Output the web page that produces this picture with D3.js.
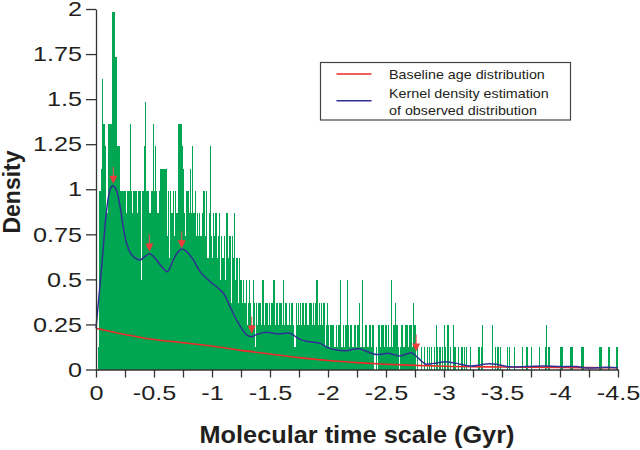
<!DOCTYPE html>
<html><head><meta charset="utf-8">
<script src="https://cdn.jsdelivr.net/npm/d3@7"></script>
<style>body{margin:0;background:#fff}</style>
</head><body><svg id="c" width="640" height="450"></svg>
<script>
// ---- data ----
const binWidth = 0.01;          // Gyr per histogram bin
const densityPerCount = 0.1238; // density of one count
const histCounts = [
 0,0,1,8,9,13,11,11,10,7,
 11,11,11,11,16,16,14,14,10,10,
 10,8,8,8,8,8,7,8,8,11,
 8,7,8,8,8,7,8,8,8,4,
 8,10,12,8,8,8,7,8,8,11,
 8,10,8,7,8,9,9,9,9,9,
 9,6,8,5,8,7,8,6,8,7,
 7,11,11,11,10,9,7,6,8,8,
 7,9,7,10,7,8,6,7,6,7,
 6,7,8,8,6,8,5,7,10,6,
 5,7,6,7,5,6,7,4,6,5,
 6,4,7,7,5,6,3,6,5,7,
 4,5,3,5,4,4,3,4,3,4,
 2,3,4,3,2,4,3,1,3,2,
 3,3,2,4,4,2,3,3,2,3,
 2,3,3,4,2,3,3,2,3,3,
 2,4,2,3,3,2,3,2,3,3,
 2,1,3,2,3,2,3,2,3,2,
 3,3,2,2,3,3,2,3,2,3,
 4,2,3,2,3,2,3,1,2,3,
 2,1,2,2,2,1,1,2,1,2,
 4,1,1,2,1,2,4,2,1,2,
 2,1,2,2,1,2,2,3,1,4,
 1,1,2,2,1,2,2,1,2,2,
 0,1,0,2,2,1,2,2,1,2,
 2,1,2,1,4,1,2,2,3,2,
 1,0,1,2,2,1,2,2,2,1,
 2,2,1,3,2,2,0,1,0,0,
 1,0,0,1,0,1,0,1,0,1,
 0,1,0,2,1,0,1,0,1,0,
 2,1,0,2,0,1,0,0,2,1,
 0,0,1,0,0,1,0,1,0,1,
 0,0,1,0,0,0,0,0,0,1,
 1,0,1,2,0,0,0,0,0,0,
 0,2,0,0,1,0,1,0,1,0,
 0,0,0,0,1,0,1,0,0,0,
 1,0,0,0,0,0,0,1,0,0,
 0,1,0,0,0,1,0,0,0,0,
 0,0,1,0,0,0,0,1,2,0,
 1,0,0,0,0,0,0,0,0,0,
 1,1,1,0,0,0,0,0,0,1,
 1,0,0,0,0,0,0,0,1,1,
 1,0,0,0,0,0,0,0,0,0,
 0,0,0,0,1,1,0,0,0,0,
 0,1,1,0,0,0,0,0,1,1
];
const kdeTime = [0,-0.049,-0.092,-0.121,-0.144,-0.172,-0.207,-0.235,-0.264,-0.307,-0.379,-0.422,-0.46,-0.509,-0.566,-0.615,-0.667,-0.71,-0.739,-0.782,-0.839,-0.897,-0.983,-1.098,-1.155,-1.227,-1.299,-1.342,-1.379,-1.466,-1.566,-1.672,-1.75,-1.836,-1.931,-2.003,-2.075,-2.16,-2.26,-2.42,-2.52,-2.62,-2.72,-2.78,-2.84,-2.91,-3.01,-3.11,-3.22,-3.37,-3.45,-3.54,-3.71,-3.86,-4.0,-4.14,-4.23,-4.4,-4.5];
const kdeDensity = [0.229,0.571,0.886,0.997,1.019,1.001,0.905,0.79,0.70,0.636,0.608,0.627,0.642,0.618,0.571,0.543,0.608,0.654,0.668,0.654,0.608,0.543,0.488,0.423,0.349,0.257,0.192,0.182,0.192,0.207,0.197,0.201,0.170,0.154,0.145,0.12,0.108,0.104,0.115,0.083,0.09,0.075,0.093,0.062,0.031,0.034,0.043,0.034,0.019,0.031,0.029,0.016,0.016,0.019,0.016,0.016,0.008,0.012,0.01];
const baseTime = [0,-0.25,-0.5,-0.75,-1,-1.25,-1.5,-1.75,-2,-2.25,-2.5,-2.75,-3,-3.5,-4,-4.5];
const baseDensity = [0.229,0.194,0.166,0.149,0.13,0.106,0.086,0.066,0.05,0.038,0.029,0.023,0.018,0.014,0.011,0.01];
const peakTime = [-0.149,-0.46,-0.739,-1.342,-2.76];
const peakDensity = [1.03,0.655,0.673,0.2,0.1];
const xTickValues = d3.range(0,19).map(i => -i*0.25);
const xLabelValues = [0,-0.5,-1,-1.5,-2,-2.5,-3,-3.5,-4,-4.5];
const yTickValues = [0,0.25,0.5,0.75,1,1.25,1.5,1.75,2];
const legendItems = [
  {label:["Baseline age distribution"], color:"#ee2a2a"},
  {label:["Kernel density estimation","of observed distribution"], color:"#2e3192"}
];
const xTitle = "Molecular time scale (Gyr)";
const yTitle = "Density";

// ---- drawing ----
const svg = d3.select("#c");
const FONT = "'Liberation Sans', Arial, Helvetica, sans-serif";
const TXT = "#231f20";
const x = d3.scaleLinear().domain([0,-4.5]).range([96,618]);
const y = d3.scaleLinear().domain([0,2]).range([369.5,9]);

function stretch(sel, f){
  sel.each(function(){
    const L = this.getComputedTextLength();
    this.setAttribute("textLength", L*f);
    this.setAttribute("lengthAdjust","spacingAndGlyphs");
  });
}

// histogram
svg.append("g").attr("shape-rendering","crispEdges")
  .selectAll("rect").data(histCounts.map((c,i)=>({c,i})).filter(d=>d.c>0))
  .join("rect")
  .attr("x", d => x(-d.i*binWidth))
  .attr("width", d => x(-(d.i+1)*binWidth) - x(-d.i*binWidth))
  .attr("y", d => y(d.c*densityPerCount))
  .attr("height", d => y(0) - y(d.c*densityPerCount))
  .attr("fill", "#00a651");

// baseline
svg.append("path")
  .datum(baseTime.map((t,i)=>[t,baseDensity[i]]))
  .attr("d", d3.line().x(d=>x(d[0])).y(d=>y(d[1])).curve(d3.curveMonotoneX))
  .attr("fill","none").attr("stroke","#ee2a2a").attr("stroke-width",1.6);

// KDE
svg.append("path")
  .datum(kdeTime.map((t,i)=>[t,kdeDensity[i]]))
  .attr("d", d3.line().x(d=>x(d[0])).y(d=>y(d[1])).curve(d3.curveCatmullRom.alpha(0.5)))
  .attr("fill","none").attr("stroke","#2e3192").attr("stroke-width",1.5);

// peak arrows
const arrows = svg.append("g");
peakTime.forEach((t,i)=>{
  const px = x(t), py = y(peakDensity[i]);
  arrows.append("line").attr("x1",px).attr("x2",px).attr("y1",py-17).attr("y2",py-7)
    .attr("stroke","#f05050").attr("stroke-width",1);
  arrows.append("path").attr("d",`M${px-4},${py-8}L${px+4},${py-8}L${px},${py}Z`)
    .attr("fill","#ef3b3b");
});

// axes
const yAxis = svg.append("g").attr("transform","translate(96,0)")
  .call(d3.axisLeft(y).tickValues(yTickValues).tickSize(10).tickSizeOuter(0).tickPadding(4)
    .tickFormat(d=>String(d)));
const xAxis = svg.append("g").attr("transform","translate(0,369.5)")
  .call(d3.axisBottom(x).tickValues(xTickValues).tickSize(8).tickSizeOuter(0).tickPadding(8)
    .tickFormat(d => xLabelValues.some(v=>Math.abs(v-d)<1e-9) ? String(d) : ""));
[yAxis,xAxis].forEach(a=>{
  a.selectAll("path,line").attr("stroke","#333").attr("stroke-width",1.3);
  a.selectAll("text").attr("font-family",FONT).attr("font-size",21).attr("fill",TXT);
});
stretch(yAxis.selectAll("text"),1.2);
stretch(xAxis.selectAll("text"),1.2);

// titles
const xt = svg.append("text").attr("x",357).attr("y",443).attr("text-anchor","middle")
  .attr("font-family",FONT).attr("font-weight","bold").attr("font-size",23).attr("fill",TXT)
  .text(xTitle);
stretch(xt,1.1);
svg.append("text").attr("transform","translate(19.5,192) rotate(-90)").attr("text-anchor","middle")
  .attr("font-family",FONT).attr("font-weight","bold").attr("font-size",23).attr("fill",TXT)
  .text(yTitle);

// legend
const lg = svg.append("g");
lg.append("rect").attr("x",320.5).attr("y",62.5).attr("width",250).attr("height",57.5)
  .attr("fill","#fff").attr("stroke","#444").attr("stroke-width",1.2);
const lineY = [74,100.7];
const textY = [[79],[97.7,115]];
legendItems.forEach((it,i)=>{
  lg.append("line").attr("x1",336.5).attr("x2",371.5).attr("y1",lineY[i]).attr("y2",lineY[i])
    .attr("stroke",it.color).attr("stroke-width",1.4);
  it.label.forEach((s,j)=>{
    const t = lg.append("text").attr("x",389).attr("y",textY[i][j])
      .attr("font-family",FONT).attr("font-size",13).attr("fill",TXT).text(s);
    stretch(t,1.1);
  });
});
</script></body></html>
